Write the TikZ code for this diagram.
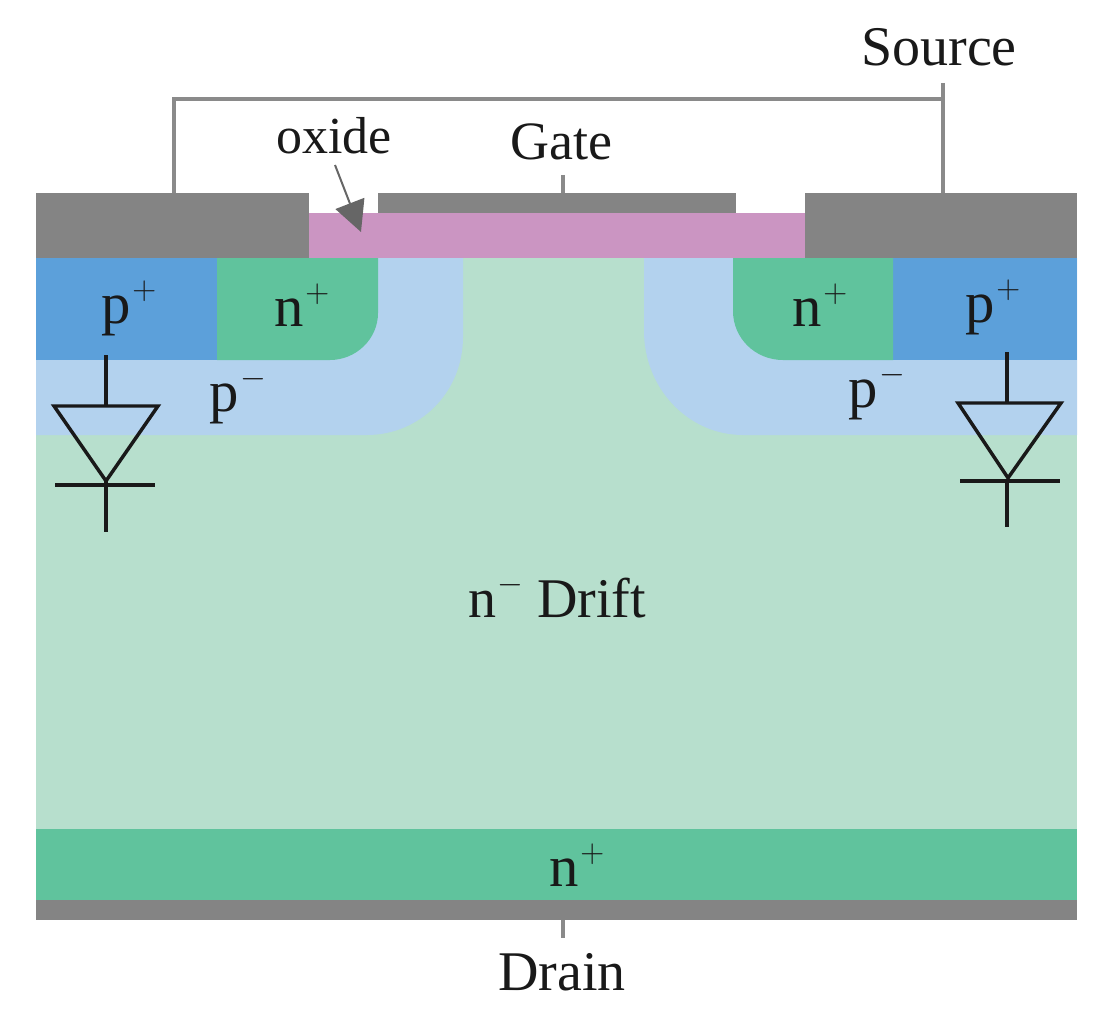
\documentclass[tikz,border=0pt]{standalone}
\usepackage{fontspec}
\setmainfont{Liberation Serif}
\usetikzlibrary{arrows.meta}
\definecolor{drift}{HTML}{B7DFCD}
\definecolor{plight}{HTML}{B3D2EE}
\definecolor{pheavy}{HTML}{5CA0DA}
\definecolor{nheavy}{HTML}{60C39D}
\definecolor{metal}{HTML}{848484}
\definecolor{oxidec}{HTML}{CB95C2}
\definecolor{wirec}{HTML}{8A8A8A}
\newcommand{\dopsup}[1]{\kern1pt\raisebox{18pt}{\fontsize{24}{24}\selectfont$#1$}}
\tikzset{
  lbl/.style={anchor=base,inner sep=0pt,font=\fontsize{42}{48}\selectfont,text=black!90},
  dop/.style={anchor=base,inner sep=0pt,font=\fontsize{44}{50}\selectfont,text=black!90},
  wire/.style={draw=wirec,line width=2.6pt},
  diode/.style={draw=black!90,line width=2.6pt,line join=miter},
}
\begin{document}
\begin{tikzpicture}[x=0.75pt,y=-0.75pt]
\useasboundingbox (0,0) rectangle (1107,1027);
% substrate
\fill[drift] (36,258) rectangle (1077,829);
% p- wells
\fill[plight] (36,258) -- (463,258) -- (463,337) .. controls (463,392) and (420,435) .. (367,435) -- (36,435) -- cycle;
\fill[plight] (1077,258) -- (644,258) -- (644,331) .. controls (644,388) and (688,435) .. (743,435) -- (1077,435) -- cycle;
% p+
\fill[pheavy] (36,258) rectangle (217,360);
\fill[pheavy] (893,258) rectangle (1077,360);
% n+
\fill[nheavy] (217,258) -- (378,258) -- (378,313) .. controls (378,339) and (356,360) .. (330,360) -- (217,360) -- cycle;
\fill[nheavy] (893,258) -- (733,258) -- (733,311) .. controls (733,338) and (755,360) .. (783,360) -- (893,360) -- cycle;
\fill[nheavy] (36,829) rectangle (1077,900);
% oxide and metal
\fill[oxidec] (309,213) rectangle (805,258);
\fill[metal] (36,193) rectangle (309,258);
\fill[metal] (805,193) rectangle (1077,258);
\fill[metal] (378,193) rectangle (736,213);
\fill[metal] (36,900) rectangle (1077,920);
% named points
\coordinate (srcL) at (174,193);
\coordinate (srcR) at (943,193);
\coordinate (srcTop) at (943,83);
\coordinate (jct) at (943,99);
\coordinate (cornerL) at (174,99);
\coordinate (gateM) at (563,193);
\coordinate (gateT) at (563,175);
\coordinate (drainM) at (563,920);
\coordinate (drainB) at (563,938);
\coordinate (oxStart) at (335,165);
\coordinate (oxTip) at (361,232);
% wires
\draw[wire] (srcL) -- (cornerL) -- (jct);
\draw[wire] (srcTop) -- (srcR);
\draw[wire] (gateT) -- (gateM);
\draw[wire] (drainM) -- (drainB);
\draw[draw=black!60,line width=1.5pt,-{Triangle[length=23pt,width=23pt]}] (oxStart) -- (oxTip);
% diodes
\coordinate (dLt) at (106,355);
\coordinate (dLa) at (54,406);
\coordinate (dLb) at (158,406);
\coordinate (dLc) at (106,481);
\coordinate (dLd) at (106,406);
\coordinate (dLe) at (55,485);
\coordinate (dLf) at (155,485);
\coordinate (dLg) at (106,532);
\draw[diode] (dLt) -- (dLd);
\draw[diode] (dLa) -- (dLb) -- (dLc) -- cycle;
\draw[diode] (dLe) -- (dLf);
\draw[diode] (dLc) -- (dLg);
\coordinate (dRt) at (1007,352);
\coordinate (dRa) at (958,403);
\coordinate (dRb) at (1061,403);
\coordinate (dRc) at (1008,478);
\coordinate (dRd) at (1007,403);
\coordinate (dRe) at (960,481);
\coordinate (dRf) at (1060,481);
\coordinate (dRg) at (1007,527);
\draw[diode] (dRt) -- (dRd);
\draw[diode] (dRa) -- (dRb) -- (dRc) -- cycle;
\draw[diode] (dRe) -- (dRf);
\draw[diode] (dRt |- dRf) -- (dRg);
% labels
\node[lbl] (source) at (939,66) {Source};
\node[lbl,font=\fontsize{40.5}{46}\selectfont] (gate) at (561,160) {Gate};
\node[lbl,font=\fontsize{39}{44}\selectfont] (oxide) at (334,154) {oxide};
\node[lbl] (drain) at (562,990) {Drain};
\node[dop] (ppL) at (129,323) {p\dopsup{+}};
\node[dop] (npL) at (302,326) {n\dopsup{+}};
\node[dop] (pmL) at (238,411) {p\dopsup{-}};
\node[dop] (npR) at (820,326) {n\dopsup{+}};
\node[dop] (ppR) at (993,322) {p\dopsup{+}};
\node[dop] (pmR) at (877,407) {p\dopsup{-}};
\node[lbl] (drift) at (557,617) {n\dopsup{-} Drift};
\node[dop] (npB) at (577,886) {n\dopsup{+}};
\end{tikzpicture}
\end{document}
